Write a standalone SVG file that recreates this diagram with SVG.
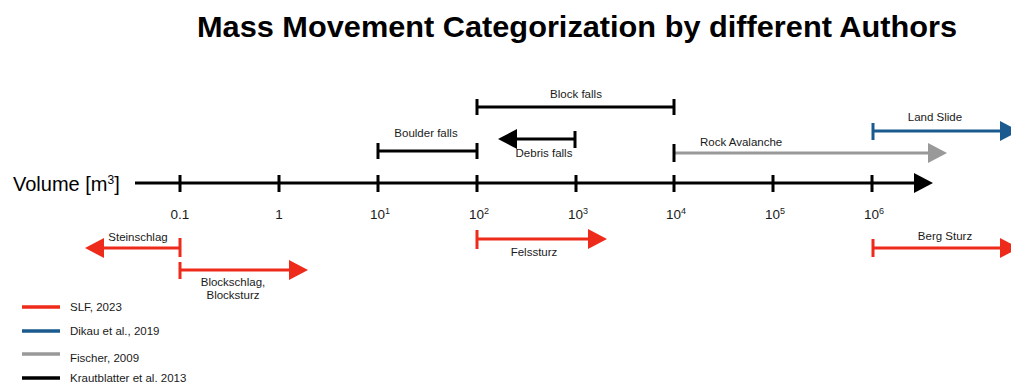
<svg xmlns="http://www.w3.org/2000/svg" width="1011" height="385" viewBox="0 0 1011 385">
<style>
text{font-family:"Liberation Sans",Arial,sans-serif;fill:#1a1a1a}
.lbl{font-size:11.5px;text-anchor:middle}
.tk{font-size:13.5px;text-anchor:middle}
.leg{font-size:11.5px}
.k{stroke:#000;stroke-width:3;fill:none}
.r{stroke:#EE2B1A;stroke-width:3;fill:none}
.b{stroke:#1B5A8E;stroke-width:3;fill:none}
.g{stroke:#999;stroke-width:3;fill:none}
</style>
<defs>
<marker id="ak" markerUnits="userSpaceOnUse" markerWidth="20" markerHeight="20" refX="1" refY="10" orient="auto" viewBox="0 0 20 20"><path d="M0,0L19,10L0,20z" fill="#000"/></marker>
<marker id="ar" markerUnits="userSpaceOnUse" markerWidth="20" markerHeight="20" refX="1" refY="10" orient="auto" viewBox="0 0 20 20"><path d="M0,0L19,10L0,20z" fill="#EE2B1A"/></marker>
<marker id="ab" markerUnits="userSpaceOnUse" markerWidth="20" markerHeight="20" refX="1" refY="10" orient="auto" viewBox="0 0 20 20"><path d="M0,0L19,10L0,20z" fill="#1B5A8E"/></marker>
<marker id="ag" markerUnits="userSpaceOnUse" markerWidth="20" markerHeight="20" refX="1" refY="10" orient="auto" viewBox="0 0 20 20"><path d="M0,0L19,10L0,20z" fill="#999"/></marker>
</defs>
<rect width="1011" height="385" fill="#fff"/>
<text id="title" x="197" y="37" style="font-size:30px;font-weight:bold;fill:#000" textLength="760" lengthAdjust="spacingAndGlyphs">Mass Movement Categorization by different Authors</text>

<g id="axis">
<text x="13" y="191" style="font-size:20px;fill:#000">Volume [m<tspan font-size="12" dy="-7">3</tspan><tspan dy="7">]</tspan></text>
<line class="k" x1="135" y1="183" x2="915" y2="183" marker-end="url(#ak)"/>
<path class="k" d="M180,175V192M279,175V192M378,175V192M477,175V192M576,175V192M674,175V192M773,175V192M872,175V192"/>
<text class="tk" x="180" y="219">0.1</text>
<text class="tk" x="279" y="219">1</text>
<text class="tk" x="380" y="219">10<tspan font-size="9" dy="-5">1</tspan></text>
<text class="tk" x="479" y="219">10<tspan font-size="9" dy="-5">2</tspan></text>
<text class="tk" x="578" y="219">10<tspan font-size="9" dy="-5">3</tspan></text>
<text class="tk" x="676" y="219">10<tspan font-size="9" dy="-5">4</tspan></text>
<text class="tk" x="775" y="219">10<tspan font-size="9" dy="-5">5</tspan></text>
<text class="tk" x="874" y="219">10<tspan font-size="9" dy="-5">6</tspan></text>
</g>

<g id="connectors">
<path class="k" d="M378,151H477M378,143V159M477,143V159"/>
<path class="k" d="M477,107H674M477,99V115M674,99V115"/>
<line class="k" x1="575" y1="139" x2="516" y2="139" marker-end="url(#ak)"/>
<path class="k" d="M575,131V148"/>
<line class="g" x1="674" y1="153" x2="929" y2="153" marker-end="url(#ag)"/>
<path class="k" d="M674,144V162"/>
<line class="b" x1="873" y1="131" x2="1001" y2="131" marker-end="url(#ab)"/>
<path class="b" d="M873,123V140"/>
<line class="r" x1="180" y1="248" x2="103" y2="248" marker-end="url(#ar)"/>
<path class="r" d="M180,238V257"/>
<line class="r" x1="180" y1="270" x2="290" y2="270" marker-end="url(#ar)"/>
<path class="r" d="M180,262V279"/>
<line class="r" x1="477" y1="239" x2="589" y2="239" marker-end="url(#ar)"/>
<path class="r" d="M477,230V249"/>
<line class="r" x1="873" y1="248" x2="1001" y2="248" marker-end="url(#ar)"/>
<path class="r" d="M873,239V257"/>
</g>

<g id="boulder-falls"><text class="lbl" x="426" y="137">Boulder falls</text></g>
<g id="block-falls"><text class="lbl" x="576" y="98">Block falls</text></g>
<g id="debris-falls"><text class="lbl" x="544" y="157">Debris falls</text></g>
<g id="rock-avalanche"><text class="lbl" x="700" y="146" text-anchor="start" style="text-anchor:start">Rock Avalanche</text></g>
<g id="land-slide"><text class="lbl" x="935" y="121">Land Slide</text></g>
<g id="steinschlag"><text class="lbl" x="138" y="241">Steinschlag</text></g>
<g id="blockschlag"><text class="lbl" x="233" y="286">Blockschlag,</text><text class="lbl" x="233" y="299">Blocksturz</text></g>
<g id="felssturz"><text class="lbl" x="534" y="256">Felssturz</text></g>
<g id="berg-sturz"><text class="lbl" x="945" y="240">Berg Sturz</text></g>

<g id="legend">
<line x1="22" y1="307" x2="60" y2="307" stroke="#EE2B1A" stroke-width="3.5"/>
<text class="leg" x="70" y="311">SLF, 2023</text>
<line x1="22" y1="331" x2="60" y2="331" stroke="#1B5A8E" stroke-width="3.5"/>
<text class="leg" x="70" y="335">Dikau et al., 2019</text>
<line x1="22" y1="354" x2="60" y2="354" stroke="#999" stroke-width="3.5"/>
<text class="leg" x="70" y="362">Fischer, 2009</text>
<line x1="22" y1="378" x2="60" y2="378" stroke="#000" stroke-width="3.5"/>
<text class="leg" x="70" y="382">Krautblatter et al. 2013</text>
</g>
</svg>
